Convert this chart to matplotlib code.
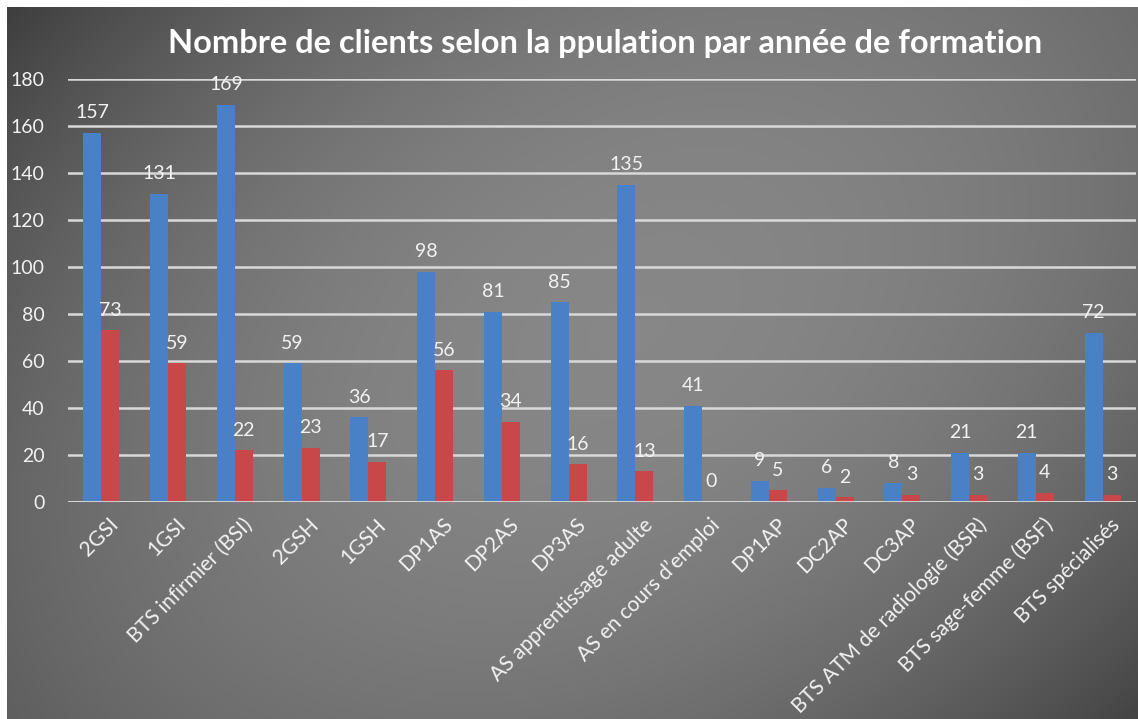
import matplotlib
matplotlib.use("Agg")
import matplotlib.pyplot as plt
import matplotlib.transforms as mtransforms
import numpy as np

categories = ["2GSI", "1GSI", "BTS infirmier (BSI)", "2GSH", "1GSH", "DP1AS", "DP2AS",
              "DP3AS", "AS apprentissage adulte", "AS en cours d\u2019emploi", "DP1AP",
              "DC2AP", "DC3AP", "BTS ATM de radiologie (BSR)", "BTS sage-femme (BSF)",
              "BTS spécialisés"]
serie_bleue = [157, 131, 169, 59, 36, 98, 81, 85, 135, 41, 9, 6, 8, 21, 21, 72]
serie_rouge = [73, 59, 22, 23, 17, 56, 34, 16, 13, 0, 5, 2, 3, 3, 4, 3]
y_ticks = [0, 20, 40, 60, 80, 100, 120, 140, 160, 180]

plt.rcParams['font.family'] = ['Lato', 'DejaVu Sans']

W, H = 1138, 719
fig = plt.figure(figsize=(W / 100, H / 100), dpi=100, facecolor="white")

# fond en degrade gris (clair au centre, plus sombre vers les bords)
bg = fig.add_axes([7 / W, 0, 1 - 7 / W, 1 - 7 / H])
yy, xx = np.mgrid[1:0:300j, 0:1:500j]
X = (xx - 0.55) * 1.58
Y = yy - 0.55
ca, sa = np.cos(np.radians(32)), np.sin(np.radians(32))
u = X * ca + Y * sa
v = -X * sa + Y * ca
g = np.clip(0.53 - 0.15 * u ** 2 - 0.35 * v ** 2, 0.22, 0.6)
bg.imshow(np.dstack([g, g, g]), aspect="auto", extent=[0, 1, 0, 1])
bg.axis("off")

ax = fig.add_axes([68 / W, (H - 502) / H, (1136 - 68) / W, (502 - 79) / H])
ax.patch.set_alpha(0)
x = np.arange(len(categories))
w = 0.27
b1 = ax.bar(x - w / 2, serie_bleue, w, color="#4a80c6", zorder=3)
b2 = ax.bar(x + w / 2, serie_rouge, w, color="#c8484a", zorder=3)
for bars in (b1, b2):
    for r in bars:
        ax.text(r.get_x() + r.get_width() / 2, r.get_height() + 5,
                str(int(r.get_height())), ha="center", va="bottom",
                color="#f2f2f2", fontsize=14)

ax.set_xlim(-0.5, len(categories) - 0.5)
ax.set_ylim(0, 180)
ax.set_yticks(y_ticks)
ax.set_yticklabels([str(v) for v in y_ticks], color="#f2f2f2", fontsize=14)
ax.yaxis.grid(True, color="#d9d9d9", linewidth=1.8, zorder=0)
ax.tick_params(axis="y", length=0, pad=17)
ax.tick_params(axis="x", length=0, pad=9)
ax.set_xticks(x)
ax.set_xticklabels(categories, rotation=45, ha="right", rotation_mode="anchor",
                   color="#f2f2f2", fontsize=15)
shift = mtransforms.ScaledTranslation(7 / 100, 0, fig.dpi_scale_trans)
for lab in ax.get_xticklabels():
    lab.set_transform(lab.get_transform() + shift)
for s in ax.spines.values():
    s.set_visible(False)
ax.axhline(0, color="#d9d9d9", linewidth=2, zorder=4)

fig.text(0.532, 0.94, "Nombre de clients selon la ppulation par année de formation",
         ha="center", va="center", color="white", fontsize=23.5, fontweight="bold")

fig.savefig("out.png", dpi=100, facecolor="white")
